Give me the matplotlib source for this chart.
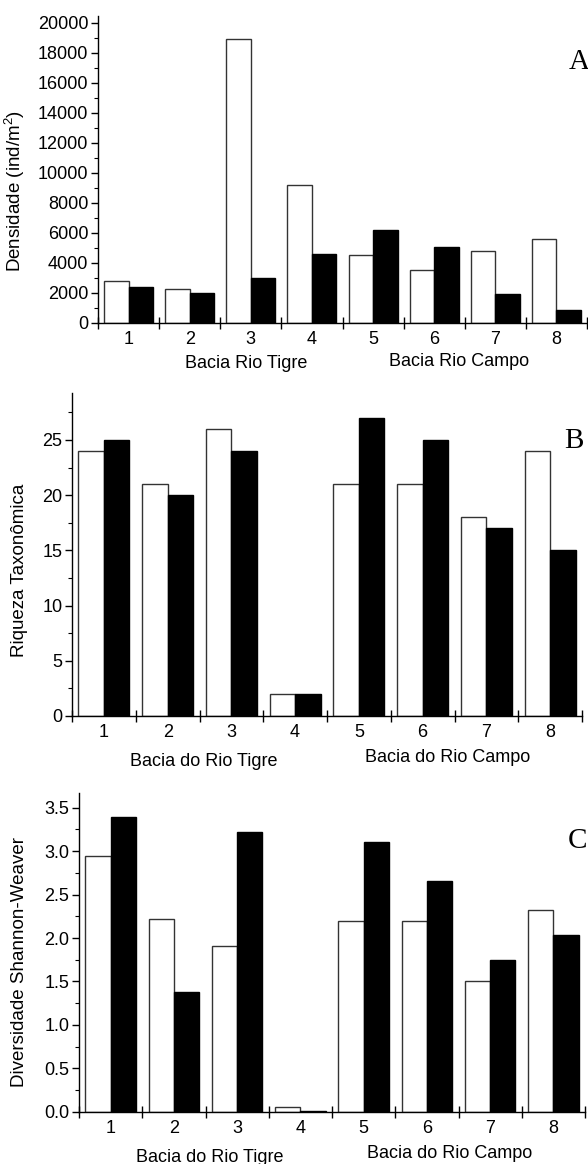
import matplotlib
matplotlib.use("Agg")
from matplotlib import pyplot as plt
from matplotlib.ticker import MultipleLocator, FixedLocator, NullFormatter, FormatStrFormatter
import numpy as np

plt.rcParams['font.family'] = ['Liberation Sans', 'DejaVu Sans']
plt.rcParams['mathtext.fontset'] = 'custom'
plt.rcParams['mathtext.rm'] = 'Liberation Sans'
plt.rcParams['mathtext.it'] = 'Liberation Sans'

sites = ['1', '2', '3', '4', '5', '6', '7', '8']

dens_white = [2750, 2250, 18900, 9200, 4500, 3500, 4750, 5600]
dens_black = [2400, 1950, 3000, 4600, 6200, 5070, 1900, 820]

riq_white = [24, 21, 26, 2, 21, 21, 18, 24]
riq_black = [25, 20, 24, 2, 27, 25, 17, 15]

div_white = [2.95, 2.22, 1.91, 0.05, 2.20, 2.20, 1.51, 2.32]
div_black = [3.39, 1.38, 3.22, 0.005, 3.10, 2.66, 1.75, 2.03]

W, H = 588, 1164
fig = plt.figure(figsize=(W / 100, H / 100), dpi=100)


def px_axes(left, right, top, bottom):
    return fig.add_axes([left / W, 1 - bottom / H, (right - left) / W, (bottom - top) / H])


def panel(ax, white, black, ymax, major, minor, ylabel, letter, ylab_x, ylab_y, labels):
    x = np.arange(1, len(sites) + 1)
    ax.bar(x - 0.2, white, width=0.4, color='white', edgecolor='#333333', linewidth=1.0)
    ax.bar(x + 0.2, black, width=0.4, color='black', edgecolor='black', linewidth=1.0)
    ax.set_xlim(0.5, 8.5)
    ax.set_ylim(0, ymax)
    for s in ['top', 'right']:
        ax.spines[s].set_visible(False)
    ax.spines['left'].set_linewidth(1.0)
    ax.spines['bottom'].set_linewidth(1.0)
    # category boundaries as major ticks, labels at centers via minor ticks
    ax.xaxis.set_major_locator(FixedLocator(np.arange(0.5, 9.0, 1.0)))
    ax.xaxis.set_major_formatter(NullFormatter())
    ax.xaxis.set_minor_locator(FixedLocator(x))
    ax.set_xticklabels(sites, minor=True)
    ax.tick_params(axis='x', which='major', direction='inout', length=8, width=1.0)
    ax.tick_params(axis='x', which='minor', length=0, pad=6, labelsize=13)
    ax.yaxis.set_major_locator(MultipleLocator(major))
    ax.yaxis.set_minor_locator(MultipleLocator(minor))
    ax.tick_params(axis='y', which='major', direction='out', length=5, width=1.0, labelsize=13, pad=2)
    ax.tick_params(axis='y', which='minor', direction='out', length=3, width=0.8)
    ax.set_ylabel(ylabel, fontsize=13.5)
    ax.yaxis.set_label_coords(ylab_x, ylab_y)
    ax.text(0.985, 0.85, letter, transform=ax.transAxes, ha='center', va='center',
            fontsize=21, family='Liberation Serif')
    for txt, cx, cy in labels:
        fig.text(cx / W, 1 - cy / H, txt, ha='center', va='center', fontsize=13)


axA = px_axes(98, 587, 16, 322.7)
panel(axA, dens_white, dens_black, 20450, 2000, 1000, 'Densidade (ind/m$^2$)', 'A', -0.145, 0.43,
      [('Bacia Rio Tigre', 246, 363), ('Bacia Rio Campo', 459, 361)])

axB = px_axes(72, 582, 393, 716)
panel(axB, riq_white, riq_black, 29.25, 5, 2.5, 'Riqueza Taxonômica', 'B', -0.086, 0.45,
      [('Bacia do Rio Tigre', 204, 762), ('Bacia do Rio Campo', 448, 757)])

axC = px_axes(79, 585, 793, 1111.7)
panel(axC, div_white, div_black, 3.67, 0.5, 0.25, 'Diversidade Shannon-Weaver', 'C', -0.101, 0.47,
      [('Bacia do Rio Tigre', 210, 1157), ('Bacia do Rio Campo', 450, 1153)])
axC.yaxis.set_major_formatter(FormatStrFormatter('%.1f'))

fig.savefig('out.png', dpi=100)
